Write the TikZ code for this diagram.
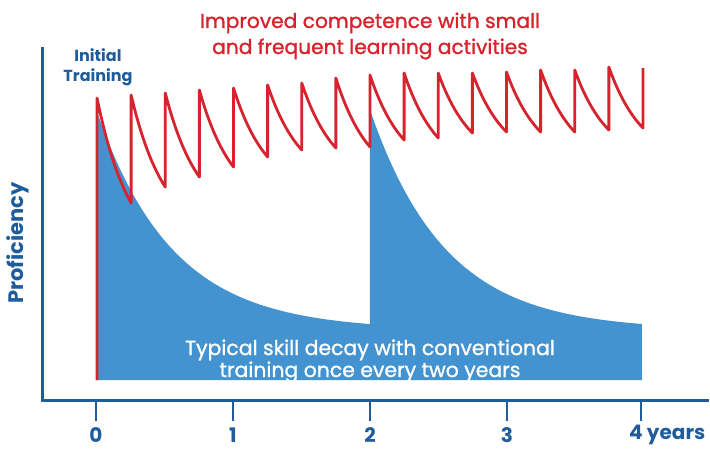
\documentclass[tikz,border=0pt]{standalone}
\usepackage{fontspec}
\setmainfont{Poppins}
\newfontfamily\medfont{Poppins}[FakeBold=1.2]
\definecolor{skillblue}{RGB}{67,147,208}
\definecolor{compred}{RGB}{214,35,45}
\definecolor{axisblue}{RGB}{30,92,155}
\begin{document}
\begin{tikzpicture}[x=1pt,y=-1pt,
  axisline/.style={axisblue,line width=3pt},
  tickline/.style={axisblue,line width=2.5pt},
  ticklabel/.style={text=axisblue,font=\fontsize{20}{20}\selectfont\bfseries,inner sep=0pt},
  redline/.style={compred,line width=2.8pt,line join=round},
  titletext/.style={text=compred,align=center,inner sep=0pt,font=\medfont\fontsize{20.2}{26}\selectfont},
  bluetext/.style={text=axisblue,align=center,inner sep=0pt,font=\fontsize{16}{20}\selectfont\bfseries},
  whitetext/.style={text=white,align=center,inner sep=0pt,font=\medfont\fontsize{20.4}{22}\selectfont}]
\useasboundingbox (0,0) rectangle (710,448);
% blue decay area
\fill[skillblue] (97,380) -- (97,112)
  -- plot[variable=\s,domain=0:1,samples=50] ({97+273*\s},{380-(50+218*exp(-3.6*\s))})
  -- (370,110)
  -- plot[variable=\s,domain=0:1,samples=50] ({370+272*\s},{380-(50+220*exp(-3.6*\s))})
  -- (642,380) -- cycle;
% red competence line
\draw[redline] (97,380)
  \foreach \i/\p/\t in {0/98/203,1/95/187,2/93/177,3/90/167,4/88/157,5/85/150,6/83/148,7/78/147,
                        8/75/140,9/73/138,10/73/133,11/73/132,12/72/132,13/70/132,14/70/130,15/67/128}
  { -- plot[variable=\s,domain=0:1,samples=20] ({97+(\i+\s)*34.125},{\p+(\t-\p)*(1-exp(-1.0*\s))/0.63212}) }
  -- (643,68);
% axes
\coordinate (ytop) at (42,47);
\coordinate (origin) at (42,400);
\coordinate (xend) at (709,400);
\draw[axisline] (ytop) -- (origin) -- (xend);
\foreach \k/\xx in {0/96,1/233,2/370,3/507,4/641}{
  \coordinate (t\k) at (\xx,400);
  \coordinate (b\k) at (\xx,421);
  \draw[tickline] (t\k) -- (b\k);
}
\node[ticklabel] (l0) at (96,435) {0};
\node[ticklabel] (l1) at (233,435) {1};
\node[ticklabel] (l2) at (370,435) {2};
\node[ticklabel] (l3) at (507,435) {3};
\node[ticklabel,anchor=west] (l4) at (629,435) {4 years};
% texts
\node[titletext] (title) at (370,36) {Improved competence with small\\and frequent learning activities};
\node[bluetext] (init) at (98,67) {Initial\\Training};
\node[bluetext,font=\fontsize{21}{21}\selectfont\bfseries,rotate=90] (prof) at (18,243) {Proficiency};
\node[whitetext] (decay) at (370,361) {Typical skill decay with conventional\\training once every two years};
\end{tikzpicture}
\end{document}
